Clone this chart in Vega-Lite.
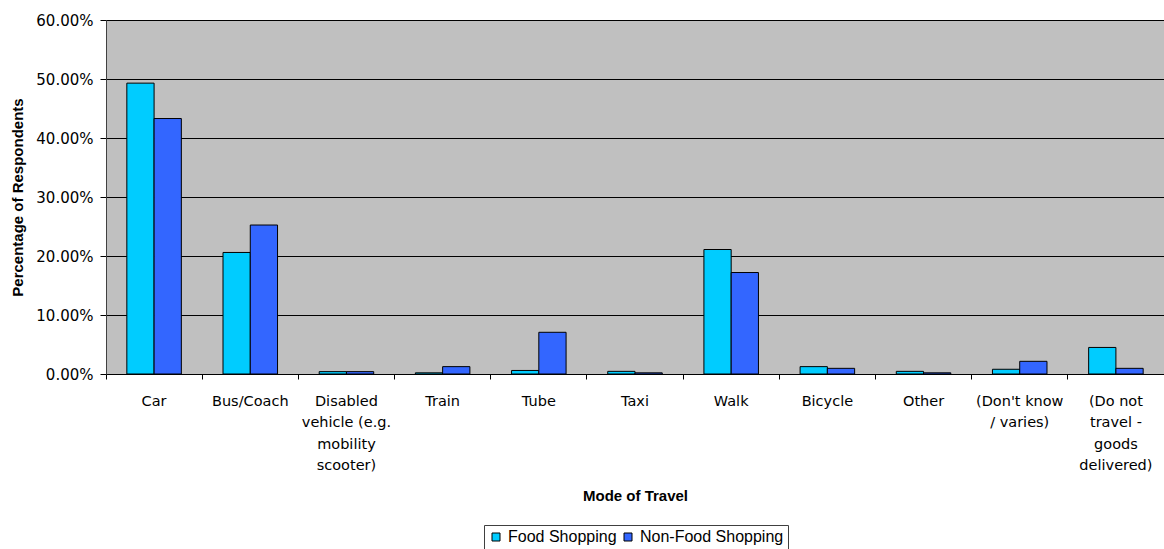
{
  "$schema": "https://vega.github.io/schema/vega-lite/v6.json",
  "autosize": {"type": "none"},
  "padding": {"left": 106, "top": 20, "right": 0, "bottom": 175},
  "width": 1058,
  "height": 354,
  "background": "white",
  "config": {
    "view": {"fill": "#C0C0C0", "stroke": "#808080", "strokeWidth": 1},
    "font": "Liberation Sans"
  },
  "data": {
    "values": [
      {"mode": "Car", "series": "Food Shopping", "pct": 0.493},
      {"mode": "Car", "series": "Non-Food Shopping", "pct": 0.433},
      {"mode": "Bus/Coach", "series": "Food Shopping", "pct": 0.206},
      {"mode": "Bus/Coach", "series": "Non-Food Shopping", "pct": 0.2525},
      {"mode": "Disabled|vehicle (e.g.|mobility|scooter)", "series": "Food Shopping", "pct": 0.004},
      {"mode": "Disabled|vehicle (e.g.|mobility|scooter)", "series": "Non-Food Shopping", "pct": 0.004},
      {"mode": "Train", "series": "Food Shopping", "pct": 0.002},
      {"mode": "Train", "series": "Non-Food Shopping", "pct": 0.0125},
      {"mode": "Tube", "series": "Food Shopping", "pct": 0.006},
      {"mode": "Tube", "series": "Non-Food Shopping", "pct": 0.0707},
      {"mode": "Taxi", "series": "Food Shopping", "pct": 0.0045},
      {"mode": "Taxi", "series": "Non-Food Shopping", "pct": 0.002},
      {"mode": "Walk", "series": "Food Shopping", "pct": 0.211},
      {"mode": "Walk", "series": "Non-Food Shopping", "pct": 0.172},
      {"mode": "Bicycle", "series": "Food Shopping", "pct": 0.0125},
      {"mode": "Bicycle", "series": "Non-Food Shopping", "pct": 0.0096},
      {"mode": "Other", "series": "Food Shopping", "pct": 0.0045},
      {"mode": "Other", "series": "Non-Food Shopping", "pct": 0.002},
      {"mode": "(Don't know|/ varies)", "series": "Food Shopping", "pct": 0.008},
      {"mode": "(Don't know|/ varies)", "series": "Non-Food Shopping", "pct": 0.0215},
      {"mode": "(Do not|travel -|goods|delivered)", "series": "Food Shopping", "pct": 0.045},
      {"mode": "(Do not|travel -|goods|delivered)", "series": "Non-Food Shopping", "pct": 0.0096}
    ]
  },
  "mark": {"type": "bar", "stroke": "black", "strokeWidth": 1},
  "encoding": {
    "x": {
      "field": "mode",
      "type": "nominal",
      "sort": null,
      "scale": {"paddingInner": 0, "paddingOuter": 0},
      "axis": {
        "title": "Mode of Travel",
        "titleFont": "Liberation Sans",
        "titleFontSize": 15,
        "titleFontWeight": "bold",
        "titleColor": "black",
        "titleBaseline": "middle",
        "titleY": 121,
        "labelAngle": 0,
        "labelExpr": "split(datum.label, '|')",
        "labelFont": "DejaVu Sans",
        "labelFontSize": 14.5,
        "labelColor": "black",
        "labelLineHeight": 21.5,
        "labelPadding": 15,
        "labelBaseline": "top",
        "bandPosition": 0,
        "ticks": true,
        "tickSize": 5,
        "tickColor": "black",
        "domainColor": "black",
        "labelLimit": 200
      }
    },
    "xOffset": {
      "field": "series",
      "type": "nominal",
      "scale": {"paddingInner": 0, "paddingOuter": 0.764}
    },
    "y": {
      "field": "pct",
      "type": "quantitative",
      "scale": {"domain": [0, 0.6], "nice": false},
      "axis": {
        "title": "Percentage of Respondents",
        "titleFont": "Liberation Sans",
        "titleFontSize": 15,
        "titleFontWeight": "bold",
        "titleColor": "black",
        "titleX": -89,
        "titleBaseline": "middle",
        "values": [0, 0.1, 0.2, 0.3, 0.4, 0.5, 0.6],
        "format": ".2%",
        "labelFont": "DejaVu Sans",
        "labelFontSize": 15,
        "labelColor": "black",
        "labelPadding": 7,
        "tickSize": 6,
        "tickColor": "black",
        "domainColor": "#404040",
        "grid": true,
        "gridColor": "black",
        "gridOpacity": 1,
        "gridWidth": 1
      }
    },
    "color": {
      "field": "series",
      "type": "nominal",
      "scale": {"domain": ["Food Shopping", "Non-Food Shopping"], "range": ["#00CCFF", "#3366FF"]},
      "legend": {
        "title": null,
        "orient": "none",
        "direction": "horizontal",
        "legendX": 378,
        "legendY": 505,
        "symbolType": "square",
        "symbolSize": 64,
        "symbolStrokeColor": "black",
        "symbolStrokeWidth": 1,
        "symbolOpacity": 1,
        "labelFont": "Liberation Sans",
        "labelFontSize": 16,
        "labelColor": "black",
        "labelOffset": 4,
        "columnPadding": 3,
        "strokeColor": "#404040",
        "padding": 4,
        "fillColor": "white"
      }
    }
  }
}
